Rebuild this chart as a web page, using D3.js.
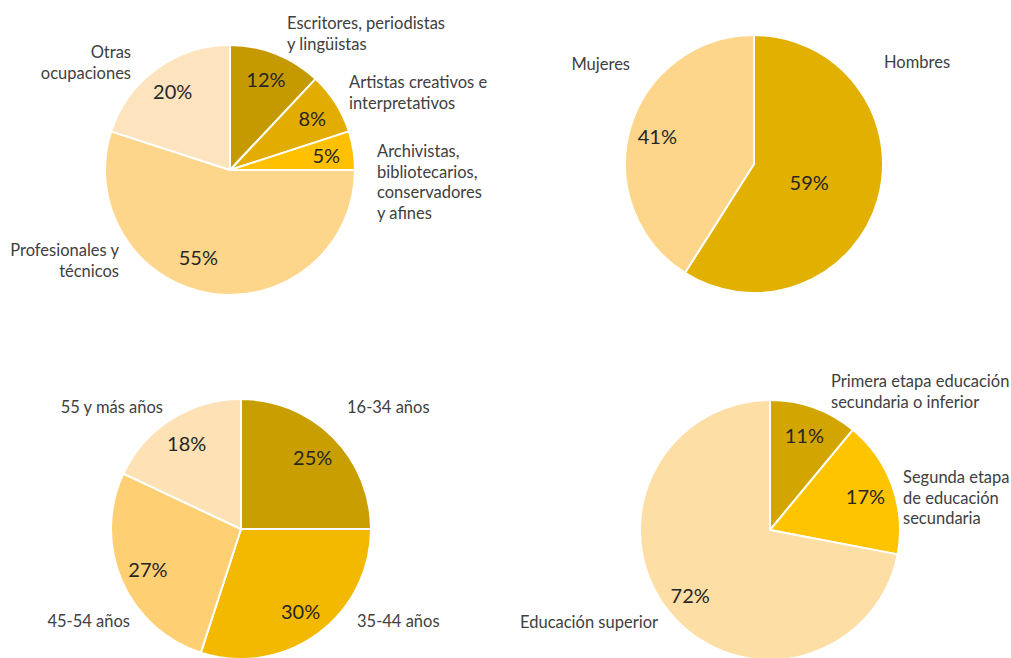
<!DOCTYPE html>
<html>
<head>
<meta charset="utf-8">
<script src="https://cdn.jsdelivr.net/npm/d3@7"></script>
<style>
  html, body { margin: 0; padding: 0; background: #ffffff; }
  svg { display: block; }
  text { font-family: Lato, "Open Sans", sans-serif; }
</style>
</head>
<body>
<svg id="chart" width="1011" height="658"></svg>
<script>
// ---------- DATA ----------
// Pie 1: occupations
const occCategories = [
  "Escritores, periodistas y lingüistas",
  "Artistas creativos e interpretativos",
  "Archivistas, bibliotecarios, conservadores y afines",
  "Profesionales y técnicos",
  "Otras ocupaciones"
];
const occValues = [12, 8, 5, 55, 20];

// Pie 2: sex
const sexCategories = ["Hombres", "Mujeres"];
const sexValues = [59, 41];

// Pie 3: age
const ageCategories = ["16-34 años", "35-44 años", "45-54 años", "55 y más años"];
const ageValues = [25, 30, 27, 18];

// Pie 4: education
const eduCategories = [
  "Primera etapa educación secundaria o inferior",
  "Segunda etapa de educación secundaria",
  "Educación superior"
];
const eduValues = [11, 17, 72];

// ---------- LAYOUT / STYLE (kept separate from data) ----------
const pies = [
  {
    cats: occCategories, vals: occValues,
    cx: 230, cy: 170, r: 125,
    colors: ["#C59A00", "#E2AC00", "#FFC000", "#FDD68C", "#FEE3BF"],
    // category label lines, anchor, x, first baseline (relative to pie centre)
    labels: [
      { lines: ["Escritores, periodistas", "y lingüistas"], anchor: "start", dx: 57, dy: -141 },
      { lines: ["Artistas creativos e", "interpretativos"], anchor: "start", dx: 119, dy: -82 },
      { lines: ["Archivistas,", "bibliotecarios,", "conservadores", "y afines"], anchor: "start", dx: 147, dy: -13 },
      { lines: ["Profesionales y", "técnicos"], anchor: "end", dx: -111, dy: 86 },
      { lines: ["Otras", "ocupaciones"], anchor: "end", dx: -99, dy: -112 }
    ],
    // optional percent label placement overrides: [angle deg from top, fraction of radius]
    pctAt: [null, null, null, [200, 0.74], null]
  },
  {
    cats: sexCategories, vals: sexValues,
    cx: 754, cy: 164, r: 129,
    colors: ["#E2B000", "#FDD68C"],
    labels: [
      { lines: ["Hombres"], anchor: "start", dx: 130, dy: -96 },
      { lines: ["Mujeres"], anchor: "end", dx: -124, dy: -94 }
    ],
    pctAt: [[108, 0.45], null]
  },
  {
    cats: ageCategories, vals: ageValues,
    cx: 241, cy: 529, r: 130,
    colors: ["#C99E00", "#F2B900", "#FECF73", "#FEE1B5"],
    labels: [
      { lines: ["16-34 años"], anchor: "start", dx: 106, dy: -116 },
      { lines: ["35-44 años"], anchor: "start", dx: 116, dy: 98 },
      { lines: ["45-54 años"], anchor: "end", dx: -111, dy: 98 },
      { lines: ["55 y más años"], anchor: "end", dx: -78, dy: -116 }
    ],
    pctAt: [null, null, null, null]
  },
  {
    cats: eduCategories, vals: eduValues,
    cx: 770, cy: 530, r: 130,
    colors: ["#D3A500", "#FFC400", "#FDDEA5"],
    labels: [
      { lines: ["Primera etapa educación", "secundaria o inferior"], anchor: "start", dx: 61, dy: -143 },
      { lines: ["Segunda etapa", "de educación", "secundaria"], anchor: "start", dx: 133, dy: -47 },
      { lines: ["Educación superior"], anchor: "end", dx: -112, dy: 98 }
    ],
    pctAt: [null, null, [231, 0.79]]
  }
];

const labelFont = 16.5;
const pctFont = 20;
const lineH = 20.5;
const defaultPctFrac = 0.78;

const svg = d3.select("#chart");

pies.forEach(p => {
  const g = svg.append("g").attr("transform", `translate(${p.cx},${p.cy})`);
  const pie = d3.pie().sort(null).value(d => d)(p.vals);
  const arc = d3.arc().innerRadius(0).outerRadius(p.r);
  const color = d3.scaleOrdinal().domain(d3.range(p.vals.length)).range(p.colors);

  g.selectAll("path.slice")
    .data(pie)
    .join("path")
    .attr("class", "slice")
    .attr("d", arc)
    .attr("fill", (d, i) => color(i))
    .attr("stroke", "#ffffff")
    .attr("stroke-width", 2)
    .attr("stroke-linejoin", "round");

  // percentage labels
  g.selectAll("text.pct")
    .data(pie)
    .join("text")
    .attr("class", "pct")
    .attr("text-anchor", "middle")
    .attr("dominant-baseline", "central")
    .attr("font-size", pctFont)
    .attr("fill", "#262626")
    .attr("transform", (d, i) => {
      let ang, frac;
      if (p.pctAt[i]) { ang = p.pctAt[i][0] * Math.PI / 180; frac = p.pctAt[i][1]; }
      else { ang = (d.startAngle + d.endAngle) / 2; frac = defaultPctFrac; }
      const rr = p.r * frac;
      return `translate(${rr * Math.sin(ang)},${-rr * Math.cos(ang)})`;
    })
    .text(d => d.data + "%");

  // category labels
  p.labels.forEach(lb => {
    const t = g.append("text")
      .attr("class", "cat")
      .attr("text-anchor", lb.anchor)
      .attr("font-size", labelFont)
      .attr("fill", "#404040")
      .attr("x", lb.dx)
      .attr("y", lb.dy);
    lb.lines.forEach((ln, k) => {
      t.append("tspan").attr("x", lb.dx).attr("y", lb.dy + k * lineH).text(ln);
    });
  });
});
</script>
</body>
</html>
